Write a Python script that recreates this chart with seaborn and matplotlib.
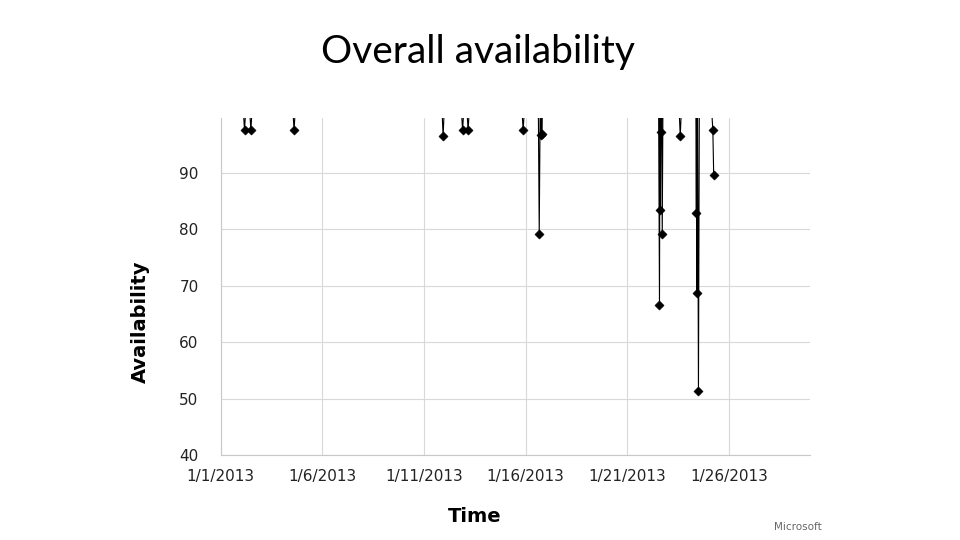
import matplotlib
matplotlib.use("Agg")
import matplotlib.pyplot as plt
import seaborn as sns
import pandas as pd

# availability samples (100 = fully available, dips in between)
times = [
    "2013-01-02 03:00", "2013-01-02 04:00", "2013-01-02 05:00",
    "2013-01-02 10:30", "2013-01-02 11:30", "2013-01-02 12:30",
    "2013-01-04 13:30", "2013-01-04 14:30", "2013-01-04 15:30",
    "2013-01-11 21:30", "2013-01-11 22:30", "2013-01-11 23:30",
    "2013-01-12 20:30", "2013-01-12 21:30", "2013-01-12 22:30",
    "2013-01-13 03:00", "2013-01-13 04:00", "2013-01-13 05:00",
    "2013-01-15 20:00", "2013-01-15 21:00", "2013-01-15 22:00",
    "2013-01-16 15:00", "2013-01-16 16:00", "2013-01-16 17:00",
    "2013-01-16 18:15", "2013-01-16 18:40", "2013-01-16 19:00", "2013-01-16 19:30",
    "2013-01-22 13:00", "2013-01-22 14:00", "2013-01-22 14:30", "2013-01-22 15:00",
    "2013-01-22 15:30", "2013-01-22 16:00", "2013-01-22 16:30", "2013-01-22 17:15",
    "2013-01-22 18:00",
    "2013-01-23 13:30", "2013-01-23 14:30", "2013-01-23 15:30",
    "2013-01-24 09:00", "2013-01-24 09:30", "2013-01-24 09:50", "2013-01-24 10:00",
    "2013-01-24 11:00", "2013-01-24 12:00", "2013-01-24 13:00",
    "2013-01-25 04:00", "2013-01-25 05:00", "2013-01-25 06:00",
]
availability = [
    100, 97.5, 100,
    100, 97.5, 100,
    100, 97.5, 100,
    100, 96.4, 100,
    100, 97.5, 100,
    100, 97.5, 100,
    100, 97.5, 100,
    100, 79.2, 100,
    96.7, 100, 96.9, 100,
    100, 66.6, 100, 83.3,
    100, 97.1, 100, 79.2,
    100,
    100, 96.4, 100,
    100, 82.9, 100, 68.7,
    100, 51.3, 100,
    100, 97.5, 89.6,
]

df = pd.DataFrame({"Time": pd.to_datetime(times), "Availability": availability})
dips = df[df["Availability"] < 100]

sns.set_style("white")
fig = plt.figure(figsize=(9.6, 5.4), dpi=100)
ax = fig.add_axes([0.230, 0.157, 0.614, 0.624])

sns.lineplot(data=df, x="Time", y="Availability", color="black",
             linewidth=0.8, ax=ax, estimator=None, sort=False)
sns.scatterplot(data=dips, x="Time", y="Availability", color="black",
                marker="D", s=22, edgecolor="black", ax=ax, zorder=3)

ax.set_ylim(40, 99.6)
ax.set_xlim(pd.Timestamp("2013-01-01"), pd.Timestamp("2013-01-30"))
ax.set_yticks([40, 50, 60, 70, 80, 90])
ticks = pd.date_range("2013-01-01", "2013-01-26", freq="5D")
ax.set_xticks(ticks)
ax.set_xticklabels([f"{t.month}/{t.day}/{t.year}" for t in ticks])
ax.grid(True, color="#d9d9d9", linewidth=0.8)
ax.set_axisbelow(True)
for side in ["top", "right"]:
    ax.spines[side].set_visible(False)
for side in ["left", "bottom"]:
    ax.spines[side].set_color("#c8c8c8")
ax.tick_params(axis="both", labelsize=11, length=0, pad=10)
ax.tick_params(axis="y", pad=16)
for lab in ax.get_yticklabels() + ax.get_xticklabels():
    lab.set_color("#222222")

ax.set_xlabel("Time", fontsize=14, fontweight="bold", color="black")
ax.set_ylabel("Availability", fontsize=14, fontweight="bold", color="black")
ax.xaxis.set_label_coords(0.431, -0.155)
ax.yaxis.set_label_coords(-0.12, 0.395)

fig.text(0.498, 0.903, "Overall availability", ha="center", va="center",
         fontsize=28, fontweight="normal", color="black",
         family=["Lato", "DejaVu Sans"])
fig.text(0.856, 0.024, "Microsoft", ha="right", va="center",
         fontsize=7.5, color="#666666")

fig.savefig("out.png", dpi=100)
